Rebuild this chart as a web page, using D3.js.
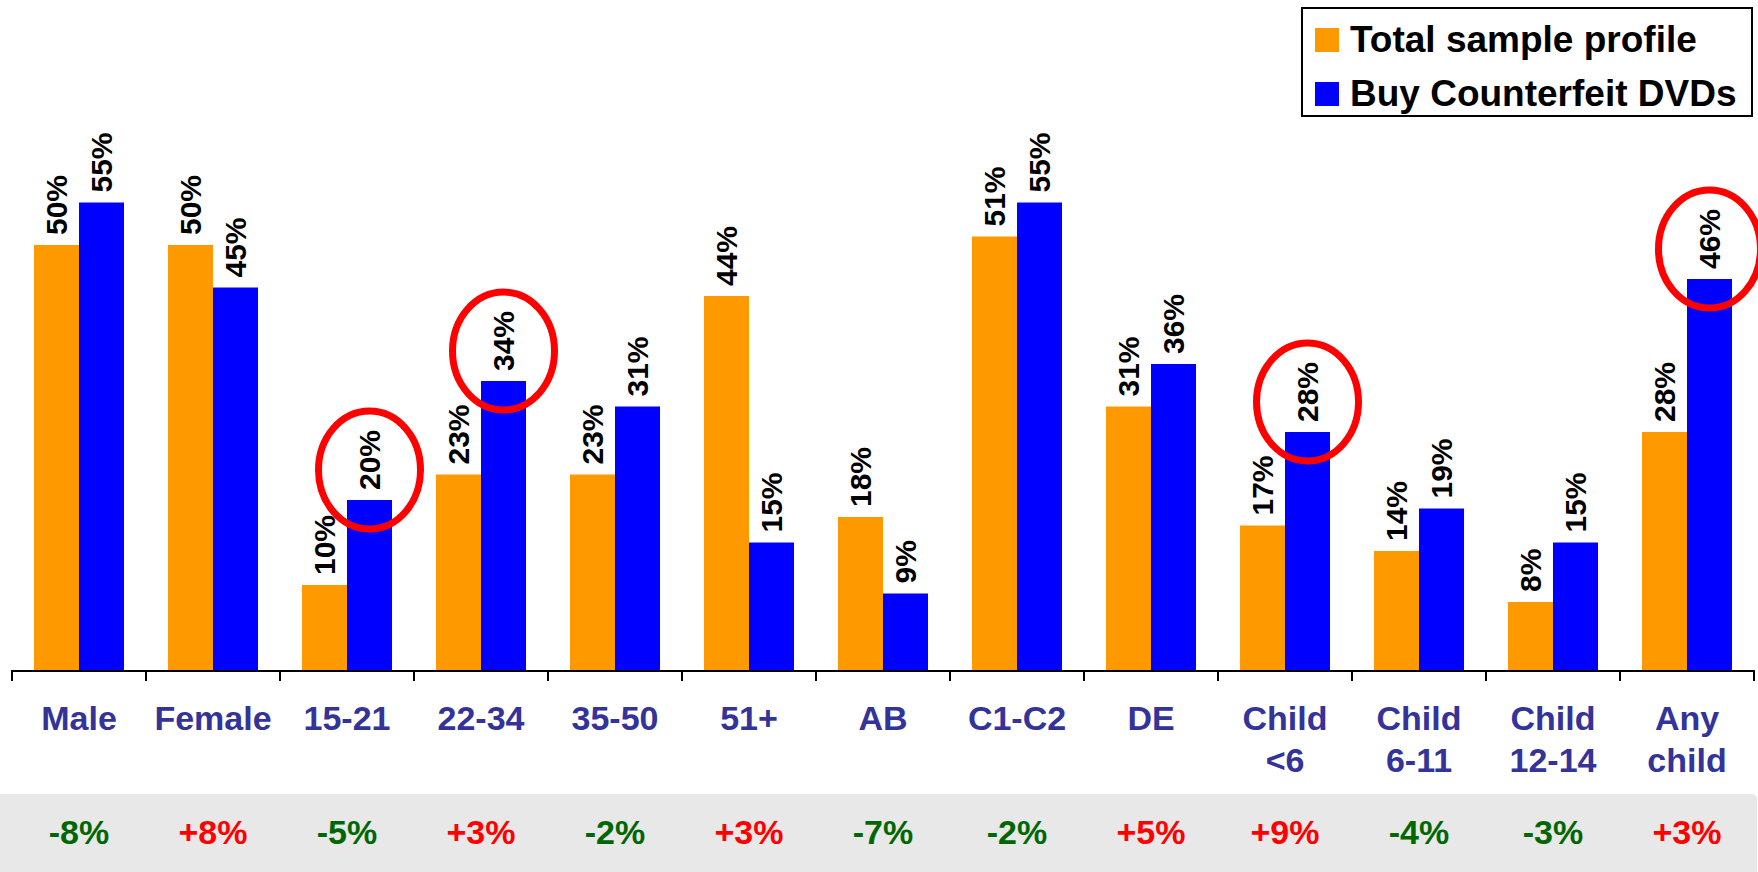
<!DOCTYPE html>
<html>
<head>
<meta charset="utf-8">
<script src="https://cdn.jsdelivr.net/npm/d3@7"></script>
<style>
    body { margin: 0; background: #fff; }
    text { font-family: "Liberation Sans", Arial, sans-serif; font-weight: bold; }
</style>
</head>
<body>
<div id="chart"></div>
<script>
// categories (second line of label after the "|")
var categories = ['Male', 'Female', '15-21', '22-34', '35-50', '51+', 'AB', 'C1-C2', 'DE',
    'Child|<6', 'Child|6-11', 'Child|12-14', 'Any|child'];
var totalSample = [50, 50, 10, 23, 23, 44, 18, 51, 31, 17, 14, 8, 28];
var buyCounterfeit = [55, 45, 20, 34, 31, 15, 9, 55, 36, 28, 19, 15, 46];
var differences = ['-8%', '+8%', '-5%', '+3%', '-2%', '+3%', '-7%', '-2%', '+5%', '+9%', '-4%', '-3%', '+3%'];
// categories whose blue value gets a red ring
var highlighted = ['15-21', '22-34', 'Child|<6', 'Any|child'];
var seriesNames = ['Total sample profile', 'Buy Counterfeit DVDs'];

function main(domSelector) {
    var width = 1758;
    var height = 872;
    var baseY = 670;
    var colors = ['#FF9900', '#0000FF'];

    var svg = d3.select(domSelector).append('svg')
        .attr('width', width)
        .attr('height', height);

    var xScale = d3.scaleBand().domain(categories).range([12, 12 + 134 * categories.length]);
    var yScale = d3.scaleLinear().domain([0, 100]).range([baseY, baseY - 850]);
    var barW = 45;

    // grey strip with differences
    svg.append('rect')
        .attr('x', -6).attr('y', 794)
        .attr('width', 1763).attr('height', 90)
        .attr('rx', 5)
        .attr('fill', '#E8E8E8');

    var rows = categories.map(function (c, i) {
        return {cat: c, values: [totalSample[i], buyCounterfeit[i]], diff: differences[i]};
    });

    var groups = svg.selectAll('g.group')
        .data(rows)
        .enter()
        .append('g')
        .attr('class', 'group')
        .attr('transform', function (d) { return 'translate(' + (xScale(d.cat) + xScale.bandwidth() / 2) + ',0)'; });

    var bars = groups.selectAll('g.bar')
        .data(function (d) { return d.values.map(function (v, j) { return {v: v, j: j}; }); })
        .enter()
        .append('g')
        .attr('class', 'bar');

    bars.append('rect')
        .attr('x', function (d) { return d.j === 0 ? -barW : 0; })
        .attr('y', function (d) { return yScale(d.v); })
        .attr('width', barW)
        .attr('height', function (d) { return baseY - yScale(d.v); })
        .attr('fill', function (d) { return colors[d.j]; });

    bars.append('text')
        .attr('transform', function (d) {
            var cx = d.j === 0 ? -barW / 2 : barW / 2;
            return 'translate(' + cx + ',' + (yScale(d.v) - 10) + ') rotate(-90)';
        })
        .attr('dy', '0.36em')
        .attr('font-size', 30)
        .attr('fill', '#000')
        .text(function (d) { return d.v + '%'; });

    // red rings
    groups.filter(function (d) { return highlighted.indexOf(d.cat) >= 0; })
        .append('ellipse')
        .attr('cx', barW / 2)
        .attr('cy', function (d) { return yScale(d.values[1]) - 30; })
        .attr('rx', 51)
        .attr('ry', 59)
        .attr('fill', 'none')
        .attr('stroke', '#FF0000')
        .attr('stroke-width', 7);

    // category labels
    groups.append('text')
        .attr('text-anchor', 'middle')
        .attr('font-size', 34)
        .attr('fill', '#333399')
        .selectAll('tspan')
        .data(function (d) { return d.cat.split('|'); })
        .enter()
        .append('tspan')
        .attr('x', 0)
        .attr('y', function (d, i) { return 730 + i * 42; })
        .text(function (d) { return d; });

    // difference labels
    groups.append('text')
        .attr('text-anchor', 'middle')
        .attr('y', 844)
        .attr('font-size', 34)
        .attr('fill', function (d) { return d.diff.charAt(0) === '+' ? '#FF0000' : '#006600'; })
        .text(function (d) { return d.diff; });

    // x axis
    var axis = svg.append('g').attr('class', 'axis');
    var range = xScale.range();
    axis.append('line')
        .attr('x1', range[0]).attr('x2', range[1])
        .attr('y1', baseY + 1).attr('y2', baseY + 1)
        .attr('stroke', '#000').attr('stroke-width', 2);
    axis.selectAll('line.tick')
        .data(d3.range(categories.length + 1))
        .enter()
        .append('line')
        .attr('class', 'tick')
        .attr('x1', function (i) { return range[0] + i * xScale.step(); })
        .attr('x2', function (i) { return range[0] + i * xScale.step(); })
        .attr('y1', baseY).attr('y2', baseY + 11)
        .attr('stroke', '#000').attr('stroke-width', 2);

    // legend
    var legend = svg.append('g').attr('class', 'legend');
    legend.append('rect')
        .attr('x', 1302).attr('y', 8)
        .attr('width', 450).attr('height', 108)
        .attr('fill', '#fff')
        .attr('stroke', '#000').attr('stroke-width', 2);
    var items = legend.selectAll('g.item')
        .data(seriesNames)
        .enter()
        .append('g')
        .attr('class', 'item')
        .attr('transform', function (d, i) { return 'translate(1315,' + (28 + i * 54) + ')'; });
    items.append('rect')
        .attr('width', 24).attr('height', 24)
        .attr('fill', function (d, i) { return colors[i]; });
    items.append('text')
        .attr('x', 35).attr('y', 24)
        .attr('font-size', 37)
        .attr('fill', '#000')
        .text(function (d) { return d; });
}

main('#chart');
</script>
</body>
</html>
